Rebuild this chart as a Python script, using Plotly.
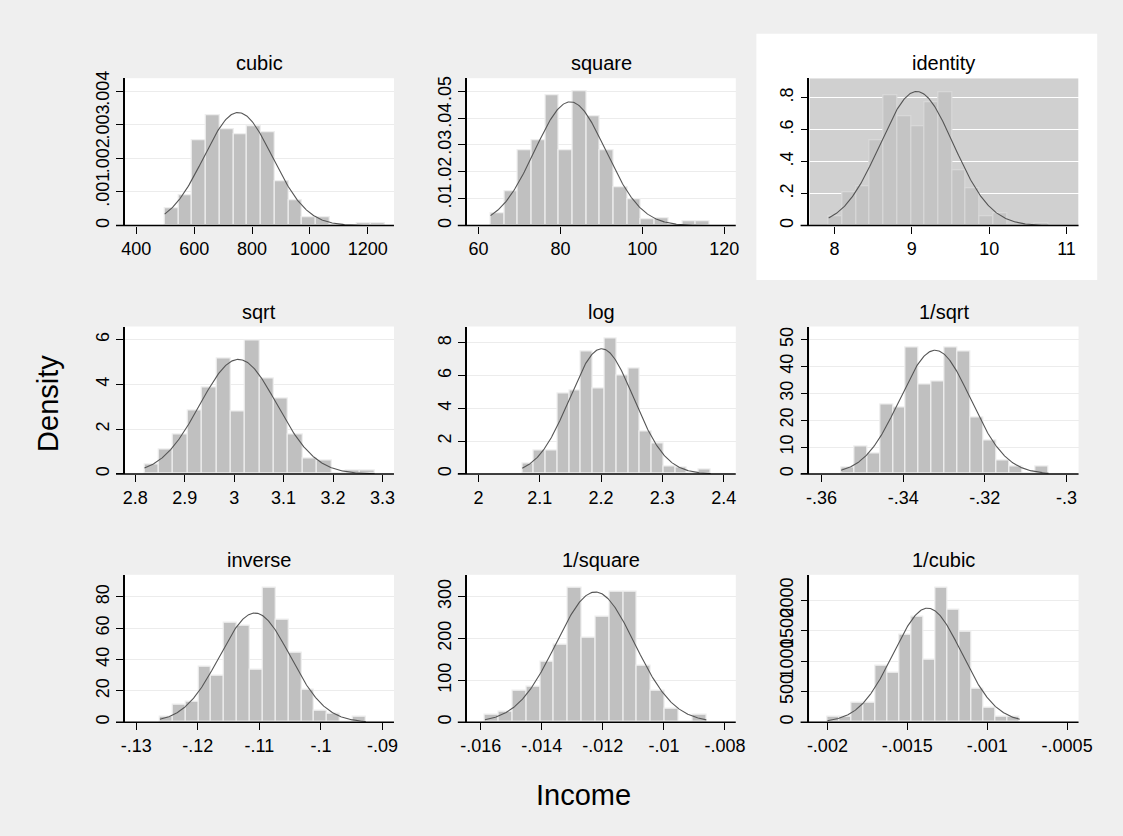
import numpy as np
import plotly.graph_objects as go

# ---------------- data ----------------
titles = ["cubic", "square", "identity", "sqrt", "log", "1/sqrt", "inverse", "1/square", "1/cubic"]

bin_start = [498.0, 62.96, 7.924, 2.8185, 2.0715, -0.3552, -0.12617, -0.01586, -0.0020]
bin_width = [47.5, 3.34, 0.1775, 0.0291, 0.0192, 0.003175, 0.00209, 0.000453, 0.0000752]

h_cubic = [0.00052, 0.00091, 0.00255, 0.00328, 0.00287, 0.00271, 0.00294, 0.00279,
           0.00133, 0.00075, 0.00025, 0.00025, 0.00004, 0.0, 0.00008, 0.00008]
h_square = [0.0047, 0.0129, 0.0279, 0.0316, 0.0485, 0.0279, 0.0499, 0.0408,
            0.0279, 0.0141, 0.0098, 0.0025, 0.0026, 0.0, 0.0015, 0.0015]
h_identity = [0.058, 0.212, 0.249, 0.536, 0.814, 0.687, 0.619, 0.775,
              0.835, 0.344, 0.233, 0.058, 0.078, 0.0, 0.0, 0.012]
h_sqrt = [0.43, 1.09, 1.75, 2.82, 3.85, 5.18, 2.80, 5.97,
          4.26, 3.35, 1.75, 0.69, 0.58, 0.0, 0.17, 0.17]
h_log = [0.62, 1.43, 1.43, 4.88, 5.08, 7.5, 5.22, 8.25,
         6.03, 6.43, 2.6, 1.85, 0.46, 0.42, 0.0, 0.24]
h_isqrt = [2.5, 10.1, 7.6, 26.0, 24.8, 46.9, 33.2, 34.3,
           46.9, 45.7, 21.1, 12.3, 4.9, 2.7, 0.0, 2.7]
h_inverse = [3.4, 11.2, 12.8, 35.4, 29.5, 63.4, 61.7, 33.7,
             85.9, 65.3, 44.4, 20.6, 7.4, 5.5, 0.0, 3.4]
h_isquare = [16.5, 24.4, 75.6, 83.5, 144, 186, 321, 202,
             252, 312, 312, 135, 75.6, 32.3, 0.0, 16.5]
h_icubic = [86, 86, 314, 314, 919, 816, 1432, 1735,
            1027, 2205, 1843, 1486, 546, 243, 86, 86]
heights = [h_cubic, h_square, h_identity, h_sqrt, h_log, h_isqrt, h_inverse, h_isquare, h_icubic]

# normal density overlay: mean and sd per panel
norm_mean = [752, 82.4, 9.063, 3.0086, 2.201, -0.33216, -0.11074, -0.012246, -0.001373]
norm_sd = [118.7, 8.67, 0.4755, 0.0779, 0.0522, 0.00866, 0.005724, 0.001283, 0.0002133]

xtick_vals = [[400, 600, 800, 1000, 1200], [60, 80, 100, 120], [8, 9, 10, 11],
              [2.8, 2.9, 3.0, 3.1, 3.2, 3.3], [2.0, 2.1, 2.2, 2.3, 2.4], [-0.36, -0.34, -0.32, -0.30],
              [-0.13, -0.12, -0.11, -0.10, -0.09], [-0.016, -0.014, -0.012, -0.010, -0.008],
              [-0.002, -0.0015, -0.001, -0.0005]]
xtick_text = [["400", "600", "800", "1000", "1200"], ["60", "80", "100", "120"], ["8", "9", "10", "11"],
              ["2.8", "2.9", "3", "3.1", "3.2", "3.3"], ["2", "2.1", "2.2", "2.3", "2.4"],
              ["-.36", "-.34", "-.32", "-.3"], ["-.13", "-.12", "-.11", "-.1", "-.09"],
              ["-.016", "-.014", "-.012", "-.01", "-.008"], ["-.002", "-.0015", "-.001", "-.0005"]]
ytick_vals = [[0, 0.001, 0.002, 0.003, 0.004], [0, 0.01, 0.02, 0.03, 0.04, 0.05], [0, 0.2, 0.4, 0.6, 0.8],
              [0, 2, 4, 6], [0, 2, 4, 6, 8], [0, 10, 20, 30, 40, 50], [0, 20, 40, 60, 80],
              [0, 100, 200, 300], [0, 500, 1000, 1500, 2000]]
ytick_text = [["0", ".001", ".002", ".003", ".004"], ["0", ".01", ".02", ".03", ".04", ".05"],
              ["0", ".2", ".4", ".6", ".8"], ["0", "2", "4", "6"], ["0", "2", "4", "6", "8"],
              ["0", "10", "20", "30", "40", "50"], ["0", "20", "40", "60", "80"],
              ["0", "100", "200", "300"], ["0", "500", "1000", "1500", "2000"]]

x_ranges = [[360.4, 1290.5], [57.12, 122.8], [7.675, 11.156], [2.7788, 3.3232], [1.9808, 2.4197],
            [-0.36296, -0.29704], [-0.13186, -0.08814], [-0.01646, -0.007647], [-0.0021124, -0.0004285]]
y_ranges = [[0, 0.00438], [0, 0.0548], [0, 0.922], [0, 6.59], [0, 9.0], [0, 54.9], [0, 94.1],
            [0, 352], [0, 2417]]

y_title = "Density"
x_title = "Income"

# ---------------- layout geometry (pixels) ----------------
W, H = 1123, 836
col_px = [(121, 395), (469, 743), (818, 1092)]
row_px = [(72, 221), (323, 472), (574, 723)]


def px_x(x):
    return x / W


def px_y(y):
    return 1 - y / H


FONT = "Liberation Sans, Arial, sans-serif"
BG = "#efefef"

fig = go.Figure()
shapes = []
annotations = []
layout_axes = {}

# white box behind the highlighted (identity) panel
shapes.append(dict(type="rect", xref="paper", yref="paper",
                   x0=px_x(764), x1=px_x(1111), y0=px_y(276), y1=px_y(27),
                   fillcolor="white", line=dict(width=0), layer="below"))

for i in range(9):
    r, c = divmod(i, 3)
    k = i + 1
    xa = "x" if k == 1 else f"x{k}"
    ya = "y" if k == 1 else f"y{k}"
    xkey = "xaxis" if k == 1 else f"xaxis{k}"
    ykey = "yaxis" if k == 1 else f"yaxis{k}"
    highlighted = titles[i] == "identity"

    h = np.array(heights[i], dtype=float)
    n = len(h)
    centers = bin_start[i] + bin_width[i] * (np.arange(n) + 0.5)
    bar_fill = "rgb(196,196,196)" if highlighted else "rgb(192,192,192)"
    bar_line = "rgb(216,216,216)" if highlighted else "rgb(238,238,238)"
    fig.add_trace(go.Bar(x=centers, y=h, width=bin_width[i], xaxis=xa, yaxis=ya,
                         marker=dict(color=bar_fill, line=dict(color=bar_line, width=1.2)),
                         showlegend=False, hoverinfo="skip"))

    xs = np.linspace(bin_start[i], bin_start[i] + bin_width[i] * n, 300)
    ys = np.exp(-0.5 * ((xs - norm_mean[i]) / norm_sd[i]) ** 2) / (norm_sd[i] * np.sqrt(2 * np.pi))
    fig.add_trace(go.Scatter(x=xs, y=ys, mode="lines", xaxis=xa, yaxis=ya,
                             line=dict(color="rgb(85,85,85)", width=1.1),
                             showlegend=False, hoverinfo="skip"))

    x0p, x1p = col_px[c]
    y0p, y1p = row_px[r]
    grid_col = "white" if highlighted else "rgb(236,236,236)"
    layout_axes[xkey] = dict(domain=[px_x(x0p), px_x(x1p)], anchor=ya, range=x_ranges[i],
                             tickvals=xtick_vals[i], ticktext=xtick_text[i], ticks="outside",
                             ticklen=7, tickwidth=1.3, tickcolor="black", showgrid=False,
                             zeroline=False, showline=False,
                             tickfont=dict(family=FONT, size=18, color="black"))
    layout_axes[ykey] = dict(domain=[px_y(y1p), px_y(y0p)], anchor=xa, range=y_ranges[i],
                             tickvals=ytick_vals[i], ticktext=ytick_text[i], ticks="outside",
                             ticklen=7, tickwidth=1.3, tickcolor="black", tickangle=-90,
                             showgrid=True, gridcolor=grid_col, gridwidth=1.2,
                             zeroline=False, showline=True, linecolor="black", linewidth=1.5,
                             tickfont=dict(family=FONT, size=18, color="black"))

    if highlighted:
        shapes.append(dict(type="rect", xref=xa, yref=ya,
                           x0=x_ranges[i][0], x1=x_ranges[i][1], y0=y_ranges[i][0], y1=y_ranges[i][1],
                           fillcolor="rgb(208,208,208)", line=dict(width=0), layer="below"))

    # x axis line (extends slightly left of the y axis, as in the reference)
    shapes.append(dict(type="line", xref="paper", yref="paper",
                       x0=px_x(x0p - 9), x1=px_x(x1p), y0=px_y(y1p), y1=px_y(y1p),
                       line=dict(color="black", width=1.5), layer="above"))

    annotations.append(dict(text=titles[i], xref="paper", yref="paper",
                            x=px_x((x0p + x1p) / 2), y=px_y(y0p), xanchor="center", yanchor="bottom",
                            yshift=2, showarrow=False,
                            font=dict(family=FONT, size=20, color="black")))

annotations.append(dict(text=y_title, xref="paper", yref="paper", x=px_x(42), y=px_y(401),
                        xanchor="center", yanchor="middle", textangle=-90, showarrow=False,
                        font=dict(family=FONT, size=29, color="black")))
annotations.append(dict(text=x_title, xref="paper", yref="paper", x=px_x(588), y=px_y(797),
                        xanchor="center", yanchor="middle", showarrow=False,
                        font=dict(family=FONT, size=29, color="black")))

fig.update_layout(width=W, height=H, autosize=False, margin=dict(l=0, r=0, t=0, b=0),
                  paper_bgcolor=BG, plot_bgcolor="white", bargap=0,
                  shapes=shapes, annotations=annotations, showlegend=False,
                  font=dict(family=FONT, color="black"), **layout_axes)

# remove the default page margin so the figure sits at the window's top-left corner
post = (
    "var s=document.createElement('style');"
    "s.innerHTML='html,body{margin:0;padding:0;overflow:hidden;background:" + BG + ";}';"
    "document.head.appendChild(s);"
    "var gd=document.getElementById('{plot_id}');"
    "Plotly.relayout(gd,{width:" + str(W) + ",height:" + str(H) + "});"
)

fig.write_html("out.html", config={"displayModeBar": False}, post_script=post)
